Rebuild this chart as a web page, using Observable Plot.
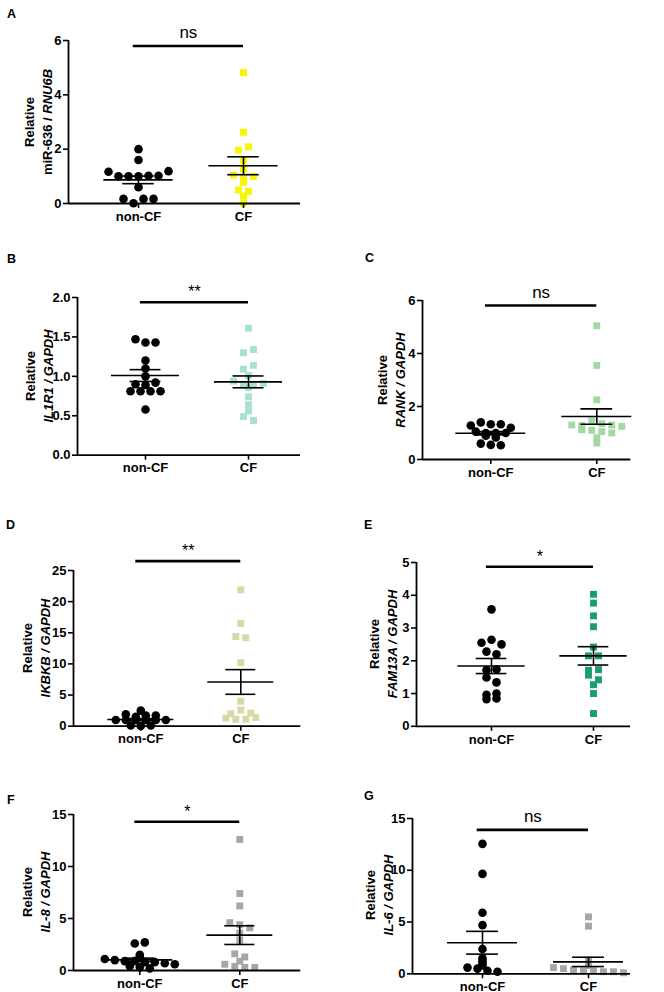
<!DOCTYPE html>
<html><head><meta charset="utf-8">
<script src="https://cdn.jsdelivr.net/npm/d3@7"></script>
<script src="https://cdn.jsdelivr.net/npm/@observablehq/plot@0.6"></script>
<style>
html,body{margin:0;padding:0;background:#fff;overflow:hidden;}
#fig{position:relative;width:664px;height:992px;font-family:"Liberation Sans",Arial,sans-serif;color:#000;}
.lbl{position:absolute;font-weight:bold;font-size:12.5px;line-height:12.5px;}
.ytitle{position:absolute;font-weight:bold;font-size:13px;line-height:18px;white-space:nowrap;text-align:center;transform:translate(-50%,-50%) rotate(-90deg);}
</style></head><body><div id="fig"></div>
<script>
// ---------- data ----------
const groups = ["non-CF", "CF"];
const panelLetters = ["A", "B", "C", "D", "E", "F", "G"];
const yNumerators = ["miR-636", "IL1R1", "RANK", "IKBKB", "FAM13A", "IL-8", "IL-6"];
const yDenominators = ["RNU6B", "GAPDH", "GAPDH", "GAPDH", "GAPDH", "GAPDH", "GAPDH"];

const miR636NonCF = [2.0, 1.6, 1.17, 1.0, 1.0, 1.0, 1.02, 1.02, 1.19, 0.6, 0.17, 0.01, 0.17, 0.17];
const miR636CF = [4.82, 2.62, 1.97, 2.09, 1.58, 1.27, 1.05, 0.93, 0.99, 0.78, 0.5, 0.45, 0.27, 0.01];
const il1r1NonCF = [1.47, 1.43, 1.43, 1.2, 1.0, 1.1, 0.9, 0.81, 0.81, 0.81, 0.81, 0.89, 0.92, 0.58];
const il1r1CF = [1.61, 1.3, 1.34, 1.09, 1.14, 1.01, 0.94, 0.89, 0.86, 0.89, 0.91, 0.74, 0.64, 0.56, 0.49, 0.44];
const rankNonCF = [1.28, 1.4, 1.33, 1.33, 1.2, 1.05, 1.0, 1.0, 1.0, 0.9, 0.83, 0.6, 0.55, 0.54];
const rankCF = [5.05, 3.55, 2.25, 1.3, 1.28, 1.45, 1.35, 1.3, 1.25, 1.12, 1.1, 1.05, 1.0, 0.82, 0.62];
const ikbkbNonCF = [2.5, 1.9, 1.5, 1.7, 1.7, 1.0, 1.0, 1.0, 1.0, 1.0, 1.0, 0.1, 0.05, 0.1];
const ikbkbCF = [21.9, 16.5, 14.4, 14.2, 10.2, 4.0, 2.0, 2.6, 2.1, 1.3, 1.1, 1.1, 1.4];
const fam13aNonCF = [3.57, 2.55, 2.64, 2.5, 2.28, 2.2, 1.72, 1.74, 1.49, 1.34, 0.96, 1.0, 0.83, 0.85];
const fam13aCF = [4.03, 3.76, 3.37, 3.04, 2.42, 2.15, 2.15, 1.71, 1.73, 1.56, 1.42, 1.27, 1.0, 0.39];
const il8NonCF = [2.6, 2.7, 1.5, 1.3, 1.1, 1.0, 0.9, 0.9, 0.8, 0.8, 0.7, 0.6, 0.4, 0.3, 0.2];
const il8CF = [12.6, 7.4, 6.2, 4.6, 4.4, 4.1, 3.6, 2.9, 1.6, 1.3, 0.9, 0.6, 0.4, 0.3, 0.3];
const il6NonCF = [12.55, 9.65, 5.9, 4.7, 2.4, 1.5, 1.2, 1.0, 0.8, 0.6, 0.5, 0.3, 0.2];
const il6CF = [5.5, 4.6, 1.3, 1.0, 0.8, 0.6, 0.5, 0.4, 0.3, 0.3, 0.2, 0.2, 0.1];

const meanNonCF = [0.87, 1.01, 0.99, 1.08, 1.84, 1.02, 3.0];
const semNonCF = [0.14, 0.075, 0.06, 0.15, 0.23, 0.17, 1.1];
const meanCF = [1.39, 0.93, 1.62, 7.1, 2.15, 3.4, 1.15];
const semCF = [0.33, 0.075, 0.29, 1.98, 0.28, 0.9, 0.45];

const sigLabels = ["ns", "**", "ns", "**", "*", "*", "ns"];
const sigLevels = [5.8, 1.94, 5.81, 26.5, 4.87, 14.3, 13.9];
const yMax = [6, 2, 6, 25, 5, 15, 15];
const yTicks = [[0, 2, 4, 6], [0, 0.5, 1, 1.5, 2], [0, 2, 4, 6], [0, 5, 10, 15, 20, 25], [0, 1, 2, 3, 4, 5], [0, 5, 10, 15], [0, 5, 10, 15]];

const panelData = [
  [miR636NonCF, miR636CF], [il1r1NonCF, il1r1CF], [rankNonCF, rankCF],
  [ikbkbNonCF, ikbkbCF], [fam13aNonCF, fam13aCF], [il8NonCF, il8CF], [il6NonCF, il6CF]
];

// ---------- styling / layout ----------
const cfColors = ["#f7f700", "#a8e2cf", "#a4d9a4", "#d9d9a6", "#1a9e6e", "#a6a6a6", "#a6a6a6"];
const layout = [
  {axisX: 68,    yTop: 40,    y0: 203,   c0: 138, c1: 243, xR: 300, lx: 7,   ly: 10,  tx: 38.5},
  {axisX: 77,    yTop: 297.3, y0: 455,   c0: 145, c1: 248, xR: 300, lx: 7,   ly: 255, tx: 39.5},
  {axisX: 421.7, yTop: 300,   y0: 459,   c0: 490, c1: 596, xR: 630, lx: 365, ly: 254, tx: 391.5},
  {axisX: 72.7,  yTop: 570,   y0: 725.7, c0: 140, c1: 240, xR: 300, lx: 6,   ly: 521, tx: 36.5},
  {axisX: 416,   yTop: 561.7, y0: 725.5, c0: 491, c1: 593, xR: 630, lx: 364, ly: 521, tx: 383.5},
  {axisX: 72.7,  yTop: 814,   y0: 970,   c0: 139, c1: 239, xR: 300, lx: 7,   ly: 796, tx: 36.5},
  {axisX: 412,   yTop: 817.7, y0: 973,   c0: 482, c1: 588, xR: 630, lx: 364, ly: 792, tx: 379.5}
];
const ML = 50, MR = 8, MT = 36, MB = 21, SPACING = 10, ROWSPAN = 5.5;
const FONT = "'Liberation Sans', Arial, sans-serif";

// column-scatter layout: group values into rows (split at the largest gaps),
// then centre each row with a fixed horizontal spacing
function rowOffsets(vals, pxu) {
  const items = vals.map((v, i) => ({i, y: v * pxu})).sort((a, b) => b.y - a.y || a.i - b.i);
  const rows = [];
  (function split(seg) {
    if (seg.length <= 1 || seg[0].y - seg[seg.length - 1].y <= ROWSPAN) { rows.push(seg); return; }
    let best = 1, gap = -1;
    for (let k = 1; k < seg.length; k++) {
      const g = seg[k - 1].y - seg[k].y;
      if (g > gap) { gap = g; best = k; }
    }
    split(seg.slice(0, best));
    split(seg.slice(best));
  })(items);
  const off = new Array(vals.length).fill(0);
  rows.forEach(row => {
    row.slice().sort((a, b) => a.i - b.i).forEach((it, k) => {
      off[it.i] = (k - (row.length - 1) / 2) * SPACING;
    });
  });
  return off;
}

const fig = document.getElementById("fig");

layout.forEach((L, i) => {
  const H = L.y0 - L.yTop, pxu = H / yMax[i], S = L.c1 - L.c0;
  const xd = [(L.axisX - L.c0) / S, (L.xR - L.c0) / S];
  const pts = [];
  panelData[i].forEach((vals, g) => {
    const offs = rowOffsets(vals, pxu);
    vals.forEach((v, j) => pts.push({g, v, x: g + offs[j] / S}));
  });
  const stats = [0, 1].map(g => ({g, m: g ? meanCF[i] : meanNonCF[i], s: g ? semCF[i] : semNonCF[i]}));
  const lw = 1.6;
  const plot = Plot.plot({
    width: ML + (L.xR - L.axisX) + MR,
    height: MT + H + MB,
    marginLeft: ML, marginRight: MR, marginTop: MT, marginBottom: MB,
    style: {background: "transparent", fontFamily: FONT, fontWeight: "bold", fontSize: "13px", color: "black", overflow: "visible"},
    x: {domain: xd},
    y: {domain: [0, yMax[i]]},
    marks: [
      Plot.dot(pts.filter(d => d.g === 0), {x: "x", y: "v", r: 4.3, fill: "black", symbol: "circle"}),
      Plot.dot(pts.filter(d => d.g === 1), {x: "x", y: "v", r: 3.9, fill: cfColors[i], symbol: "square"}),
      Plot.ruleY(stats, {y: "m", x1: d => d.g - 0.33, x2: d => d.g + 0.33, stroke: "black", strokeWidth: lw}),
      Plot.ruleY(stats, {y: d => d.m + d.s, x1: d => d.g - 0.15, x2: d => d.g + 0.15, stroke: "black", strokeWidth: lw}),
      Plot.ruleY(stats, {y: d => d.m - d.s, x1: d => d.g - 0.15, x2: d => d.g + 0.15, stroke: "black", strokeWidth: lw}),
      Plot.ruleX(stats, {x: "g", y1: d => d.m - d.s, y2: d => d.m + d.s, stroke: "black", strokeWidth: lw}),
      Plot.ruleY([0], {stroke: "black", strokeWidth: 1.8}),
      Plot.ruleX([xd[0]], {stroke: "black", strokeWidth: 1.8}),
      Plot.axisY({ticks: yTicks[i], tickFormat: i === 1 ? d3.format(".1f") : d3.format("d"), tickSize: 5, tickPadding: 2, strokeWidth: lw, label: null}),
      Plot.axisX({ticks: [0, 1], tickFormat: d => groups[d], tickSize: 5, tickPadding: 3, strokeWidth: lw, label: null}),
      Plot.ruleY([sigLevels[i]], {x1: -0.05, x2: 1.0, stroke: "black", strokeWidth: 2.6}),
      Plot.text([sigLabels[i]], {x: 0.475, y: sigLevels[i], text: d => d, dy: sigLabels[i] === "ns" ? -13 : -10, fontSize: sigLabels[i] === "ns" ? 17 : 16, fontWeight: "normal"})
    ]
  });
  plot.style.position = "absolute";
  plot.style.left = (L.axisX - ML) + "px";
  plot.style.top = (L.yTop - MT) + "px";
  fig.appendChild(plot);
});

layout.forEach((L, i) => {
  const letter = document.createElement("div");
  letter.className = "lbl";
  letter.style.left = L.lx + "px";
  letter.style.top = (L.ly - 1.6) + "px";
  letter.textContent = panelLetters[i];
  fig.appendChild(letter);

  const t = document.createElement("div");
  t.className = "ytitle";
  t.style.left = L.tx + "px";
  t.style.top = ((L.yTop + L.y0) / 2) + "px";
  const line1 = document.createElement("div");
  line1.textContent = "Relative";
  const line2 = document.createElement("div");
  const num = document.createElement(yNumerators[i].startsWith("miR") ? "span" : "i");
  num.textContent = yNumerators[i] + " / ";
  const den = document.createElement("i");
  den.textContent = yDenominators[i];
  line2.appendChild(num);
  line2.appendChild(den);
  t.appendChild(line1);
  t.appendChild(line2);
  fig.appendChild(t);
});
</script>
</body></html>
